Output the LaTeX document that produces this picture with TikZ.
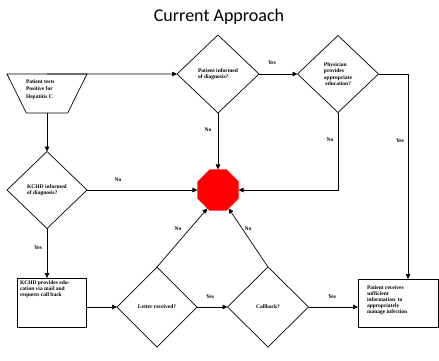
\documentclass[tikz,border=0pt]{standalone}
\usepackage{fontspec}
\setmainfont{Liberation Serif}
\newfontfamily\titlefont{Carlito}
\usetikzlibrary{shapes.geometric,arrows.meta}
\begin{document}
\begin{tikzpicture}[x=1pt,y=-1pt,
  every node/.style={inner sep=0pt, outer sep=0pt},
  lbl/.style={font=\fontsize{5.5}{6}\selectfont\bfseries},
  dia/.style={diamond, draw, line width=0.7pt, align=left, font=\fontsize{5.5}{6.5}\selectfont\bfseries},
  box/.style={draw, line width=0.9pt, rectangle},
  txt/.style={align=left, font=\fontsize{5.5}{6}\selectfont\bfseries},
  arr/.style={line width=0.7pt, -{Triangle[length=5pt,width=4.5pt]}}
]
\path[use as bounding box] (0,0) rectangle (439,360);

\node[font=\titlefont\fontsize{18}{20}\selectfont] (title) at (219,17) {Current Approach};

\node[trapezium, draw, line width=0.7pt, trapezium left angle=65, trapezium right angle=65,
      shape border rotate=180, trapezium stretches=true, minimum width=80pt, minimum height=39pt,
      inner sep=2pt]
      (t) at (47,93.5) {};
\node[txt, font=\fontsize{5.5}{7.5}\selectfont\bfseries, anchor=north west] (tt) at (26,79.5) {Patient tests\\Positive for\\Hepatitis C};

\node[dia, minimum width=82pt, minimum height=78pt] (d1) at (218,74) {Patient informed\\of diagnosis?};
\node[dia, minimum width=81pt, minimum height=77pt] (d2) at (338,74) {Physician\\provides\\appropriate\\\ education?};
\node[dia, minimum width=80pt, minimum height=77pt] (kchd) at (47,190) {KCHD informed\\of diagnosis?};
\node[regular polygon, regular polygon sides=8, minimum size=44.4pt, fill=red] (oct) at (218,190) {};
\node[box, minimum width=69pt, minimum height=49pt] (b1) at (51.5,302.5) {};
\node[txt, anchor=north west] (b1t) at (20,281) {KCHD provides edu-\\cation via mail and\\requests call back};
\node[dia, minimum width=80pt, minimum height=80pt] (letter) at (157,307) {Letter received?};
\node[dia, minimum width=81pt, minimum height=80pt] (callback) at (268,307) {Callback?};
\node[box, minimum width=80pt, minimum height=48pt] (b2) at (398,303) {};
\node[txt, anchor=north west] (b2t) at (367,286) {Patient receives\\sufficient\\information\ \ to\\appropriately\\manage infection};

\draw[arr] (t.south) -- (kchd.north);
\draw[arr] (t.north) -- (d1.west);
\draw[arr] (d1.east) -- (d2.west);
\node[lbl] at (272,63) {Yes};
\draw[arr] (d1.south) -- (oct.north);
\node[lbl] at (208,130) {No};
\draw[arr] (d2.east) -| ([xshift=10pt]b2.north);
\node[lbl] at (400,141) {Yes};
\draw[arr] (d2.south) |- (oct.east);
\node[lbl] at (330,140) {No};
\draw[arr] (kchd.east) -- (oct.west);
\node[lbl] at (118,180) {No};
\draw[arr] (kchd.south) -- (kchd.south |- b1.north);
\node[lbl] at (38,248) {Yes};
\draw[arr] (letter.west -| b1.east) -- (letter.west);
\draw[arr] (letter.east) -- (callback.west);
\node[lbl] at (210,297) {Yes};
\draw[arr] (callback.east) -- (callback.east -| b2.west);
\node[lbl] at (332,297) {Yes};
\draw[arr] (letter.north) -- (oct.-120);
\node[lbl] at (178,229) {No};
\draw[arr] (callback.north) -- (oct.-60);
\node[lbl] at (248,229) {No};
\end{tikzpicture}
\end{document}
